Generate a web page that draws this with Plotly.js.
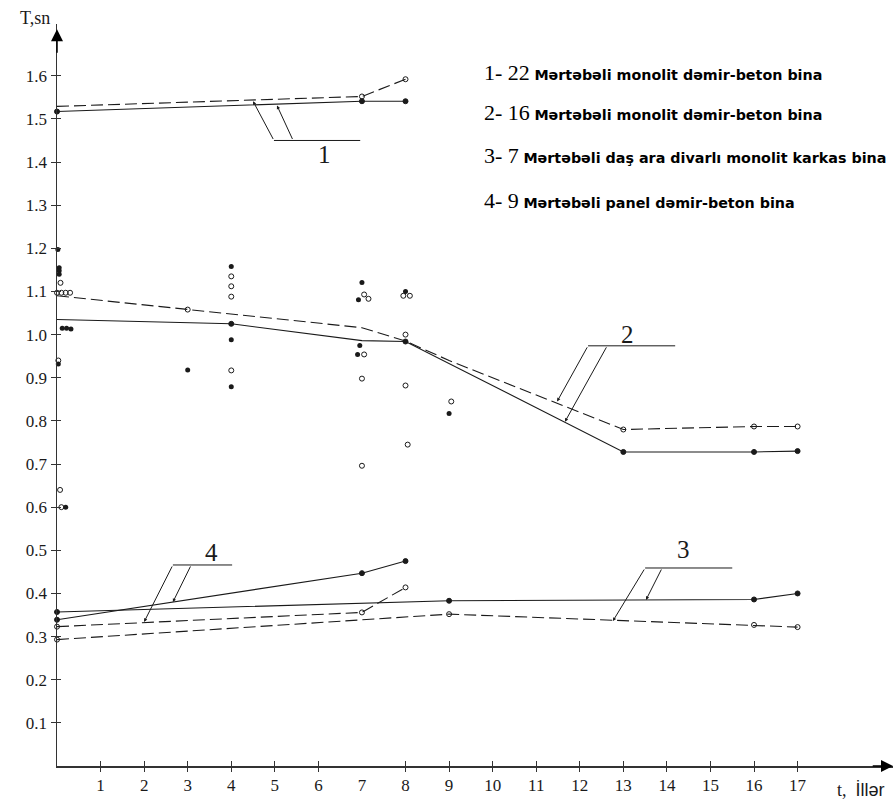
<!DOCTYPE html>
<html><head><meta charset="utf-8">
<script src="https://cdn.plot.ly/plotly-3.0.1.min.js"></script>
<style>html,body{margin:0;padding:0;background:#fff;}#chart{width:895px;height:803px;}</style>
</head><body><div id="chart"></div>
<script>
// ---- data ----
// Series 1: 22-storey monolithic RC building
const s1SolidX=[0,7,8], s1SolidY=[1.517,1.541,1.541], s1SolidMarked=[0,1,2];
const s1DashX=[0,7,8],  s1DashY=[1.529,1.552,1.592],  s1DashMarked=[1,2];
// Series 2: 16-storey monolithic RC building
const s2SolidX=[0,4,7,8,13,16,17], s2SolidY=[1.035,1.025,0.986,0.984,0.728,0.728,0.730], s2SolidMarked=[1,3,4,5,6];
const s2DashX=[0,3,7,8,9,13,16,17], s2DashY=[1.090,1.058,1.016,0.985,0.940,0.780,0.787,0.787], s2DashMarked=[1,5,6,7];
// Series 3: 7-storey monolithic frame building
const s3SolidX=[0,9,16,17], s3SolidY=[0.357,0.383,0.386,0.400], s3SolidMarked=[0,1,2,3];
const s3DashX=[0,9,13,16,17], s3DashY=[0.293,0.352,0.337,0.327,0.322], s3DashMarked=[0,1,3,4];
// Series 4: 9-storey panel RC building
const s4SolidX=[0,7,8], s4SolidY=[0.339,0.447,0.475], s4SolidMarked=[0,1,2];
const s4DashX=[0,7,8],  s4DashY=[0.323,0.356,0.414],  s4DashMarked=[0,1,2];
// Measured scatter (series 2)
const filledX=[0.02,0.05,0.05,0.05,0.12,0.22,0.32,0.03,0.20, 3,4,4,4, 7,6.92,6.95,6.90, 8, 9];
const filledY=[1.197,1.155,1.148,1.140,1.015,1.015,1.013,0.932,0.600, 0.918,1.158,0.988,0.879, 1.121,1.081,0.975,0.954, 1.100, 0.817];
const openX=[0.08,0.00,0.10,0.20,0.30,0.03,0.07,0.10, 4,4,4,4, 7.05,7.15,7.05,7,7, 7.95,8.10,8,8,8.05, 9.05];
const openY=[1.120,1.097,1.097,1.097,1.097,0.940,0.640,0.600, 1.135,1.112,1.088,0.917, 1.093,1.083,0.954,0.898,0.696, 1.090,1.090,1.000,0.882,0.745, 0.845];
// ticks and texts
const xTicks=[1,2,3,4,5,6,7,8,9,10,11,12,13,14,15,16,17];
const xTickMarks=[1,2,3,4,5,6,8,9,10,11,12,13,14,15,16,17];
const yTicks=[0.1,0.2,0.3,0.4,0.5,0.6,0.7,0.8,0.9,1.0,1.1,1.2,1.3,1.4,1.5,1.6];
const legendNums=['1- 22','2- 16','3- 7','4- 9'];
const legendTexts=['Mərtəbəli monolit dəmir-beton bina','Mərtəbəli monolit dəmir-beton bina','Mərtəbəli daş ara divarlı monolit karkas bina','Mərtəbəli panel dəmir-beton bina'];
const curveLabels=['1','2','3','4'];

// ---- styling / layout helpers ----
const XR=[0,19.19], YR=[0,1.72];
const INK='#1a1a1a';
const serif='Liberation Serif';
const sans='DejaVu Sans';

function lineTrace(x,y,dash){
  return {x:x,y:y,mode:'lines',type:'scatter',cliponaxis:false,hoverinfo:'skip',showlegend:false,
    line:{color:INK,width:1.1,dash:dash?'12px,5px':'solid'}};
}
function markTrace(x,y,idx,open){
  return {x:idx.map(i=>x[i]),y:idx.map(i=>y[i]),mode:'markers',type:'scatter',cliponaxis:false,hoverinfo:'skip',showlegend:false,
    marker:{symbol:open?'circle-open':'circle',size:5,color:INK,line:{width:1,color:INK}}};
}
const traces=[];
[[s1SolidX,s1SolidY,s1SolidMarked,false],[s2SolidX,s2SolidY,s2SolidMarked,false],[s3SolidX,s3SolidY,s3SolidMarked,false],[s4SolidX,s4SolidY,s4SolidMarked,false],
 [s1DashX,s1DashY,s1DashMarked,true],[s2DashX,s2DashY,s2DashMarked,true],[s3DashX,s3DashY,s3DashMarked,true],[s4DashX,s4DashY,s4DashMarked,true]].forEach(s=>{
  traces.push(lineTrace(s[0],s[1],s[3]));
  traces.push(markTrace(s[0],s[1],s[2],s[3]));
});
traces.push({x:filledX,y:filledY,mode:'markers',type:'scatter',cliponaxis:false,hoverinfo:'skip',showlegend:false,
  marker:{symbol:'circle',size:5,color:INK}});
traces.push({x:openX,y:openY,mode:'markers',type:'scatter',cliponaxis:false,hoverinfo:'skip',showlegend:false,
  marker:{symbol:'circle-open',size:5,color:INK,line:{width:1,color:INK}}});
// dummy traces so overlay tick axes are drawn
traces.push({x:[null],y:[null],xaxis:'x2',yaxis:'y2',mode:'markers',showlegend:false,hoverinfo:'skip'});
traces.push({x:[null],y:[null],xaxis:'x3',yaxis:'y',mode:'markers',showlegend:false,hoverinfo:'skip'});

// curve-label guides: [label x, label y, guide x0, guide x1, guide y, leaders [[tailX,headX,headY],...]]
const guides=[
  [6.15,1.418,4.98,6.96,1.450,[[4.98,4.50,1.541],[5.42,5.05,1.531]]],
  [13.10,1.000,12.19,14.19,0.974,[[12.19,11.48,0.845],[12.63,11.66,0.798]]],
  [14.37,0.501,13.50,15.50,0.459,[[13.50,12.76,0.336],[13.89,13.52,0.385]]],
  [3.54,0.494,2.66,4.02,0.466,[[2.66,2.00,0.334],[3.08,2.66,0.380]]]
];
const shapes=[], annotations=[];
guides.forEach((g,i)=>{
  shapes.push({type:'line',xref:'x',yref:'y',x0:g[2],x1:g[3],y0:g[4],y1:g[4],line:{color:INK,width:1}});
  annotations.push({x:g[0],y:g[1],xref:'x',yref:'y',text:curveLabels[i],showarrow:false,font:{family:serif,size:25,color:INK}});
  g[5].forEach(l=>{
    annotations.push({x:l[1],y:l[2],ax:l[0],ay:g[4],xref:'x',yref:'y',axref:'x',ayref:'y',text:'',showarrow:true,
      arrowhead:2,arrowsize:0.7,arrowwidth:1,arrowcolor:INK,standoff:0,startstandoff:0});
  });
});
// legend texts
const legY=[1.607,1.514,1.416,1.312];
legendNums.forEach((n,i)=>{
  annotations.push({x:9.76,y:legY[i],xref:'x',yref:'y',xanchor:'left',yanchor:'middle',showarrow:false,
    text:'<span style="font-family:Liberation Serif;font-size:22px">'+n+'</span> <b>'+legendTexts[i]+'</b>',
    font:{family:sans,size:14.3,color:'#000'}});
});
// axis titles
annotations.push({x:-0.026,y:1.008,xref:'paper',yref:'paper',text:'T,sn',showarrow:false,xanchor:'center',yanchor:'middle',
  font:{family:serif,size:18,color:INK}});
annotations.push({x:0.9306,y:-0.032,xref:'paper',yref:'paper',xanchor:'left',yanchor:'middle',showarrow:false,
  text:'t,  <span style="font-family:Liberation Sans">İllər</span>',font:{family:serif,size:18,color:INK}});
// axis arrows
annotations.push({x:XR[1],y:0,ax:XR[1]-0.5,ay:0,xref:'x',yref:'y',axref:'x',ayref:'y',text:'',showarrow:true,
  arrowhead:2,arrowsize:1.6,arrowwidth:1.5,arrowcolor:'#000',standoff:0});
annotations.push({x:0,y:1.708,ax:0,ay:1.65,xref:'x',yref:'y',axref:'x',ayref:'y',text:'',showarrow:true,
  arrowhead:2,arrowsize:1.6,arrowwidth:1.5,arrowcolor:'#000',standoff:0});

const layout={
  width:895,height:803,margin:{l:57,r:2,t:24,b:37},
  paper_bgcolor:'#fff',plot_bgcolor:'#fff',showlegend:false,
  xaxis:{range:XR,showgrid:false,zeroline:false,showline:true,linecolor:'#333',linewidth:1.5,
    tickvals:xTicks,ticktext:xTicks.map(String),ticks:'outside',ticklen:3,tickcolor:'rgba(0,0,0,0)',
    tickfont:{family:serif,size:17,color:INK}},
  xaxis2:{range:XR,overlaying:'x',anchor:'y',showgrid:false,zeroline:false,showline:false,showticklabels:false,
    tickvals:xTickMarks,ticks:'outside',ticklen:5,tickwidth:1,tickcolor:'#333'},
  xaxis3:{range:XR,overlaying:'x',anchor:'y',showgrid:false,zeroline:false,showline:false,showticklabels:false,
    tickvals:xTickMarks,ticks:'inside',ticklen:5,tickwidth:1,tickcolor:'#333'},
  yaxis:{range:YR,showgrid:false,zeroline:false,showline:true,linecolor:'#333',linewidth:1.5,
    tickvals:yTicks,ticktext:yTicks.map(v=>v.toFixed(1)),ticks:'outside',ticklen:5,tickwidth:1,tickcolor:'#333',
    tickfont:{family:serif,size:17,color:INK}},
  yaxis2:{range:YR,overlaying:'y',anchor:'x',showgrid:false,zeroline:false,showline:false,showticklabels:false,
    tickvals:yTicks,ticks:'inside',ticklen:4,tickwidth:1,tickcolor:'#333'},
  shapes:shapes,annotations:annotations
};
Plotly.newPlot('chart',traces,layout,{displayModeBar:false,staticPlot:true});
</script></body></html>
